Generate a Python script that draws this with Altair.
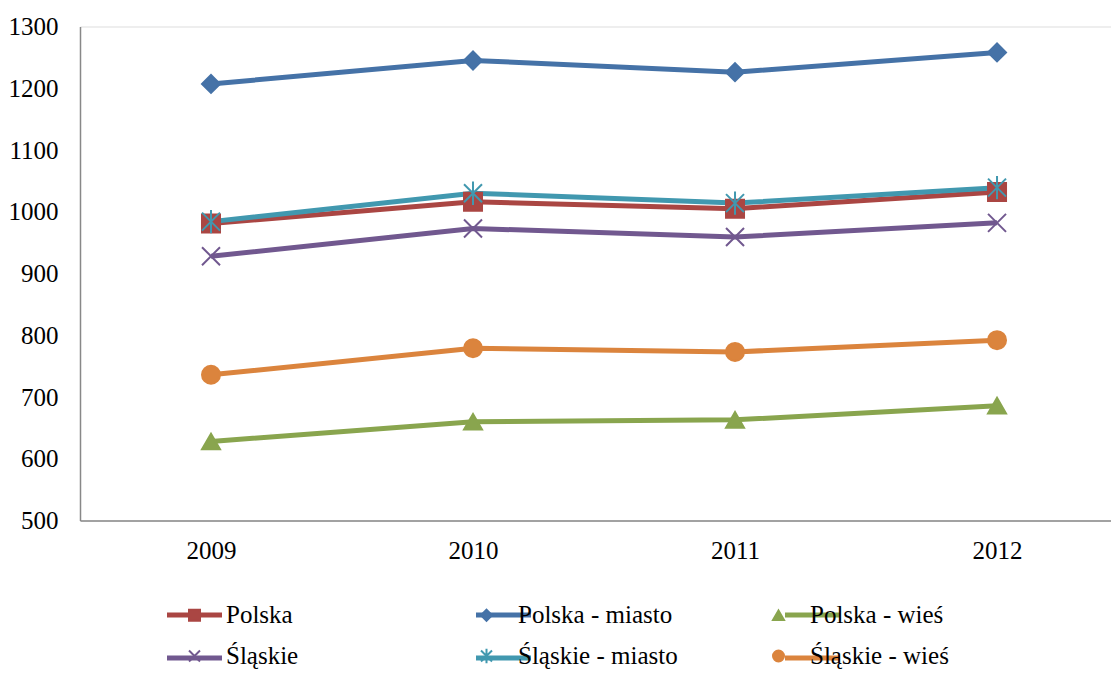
import altair as alt
import pandas as pd

years = [2009, 2010, 2011, 2012]
series = ["Polska", "Polska - miasto", "Polska - wieś",
          "Śląskie", "Śląskie - miasto", "Śląskie - wieś"]
polska = [981, 1016, 1005, 1032]
polska_miasto = [1207, 1245, 1226, 1258]
polska_wies = [628, 660, 663, 686]
slaskie = [928, 973, 959, 982]
slaskie_miasto = [984, 1030, 1014, 1039]
slaskie_wies = [736, 779, 773, 792]
y_ticks = [500, 600, 700, 800, 900, 1000, 1100, 1200, 1300]

colors = ["#AA4643", "#4572A7", "#89A54E", "#71588F", "#4198AF", "#DB843D"]
shapes = ["square", "diamond", "triangle-up",
          "M-1,-1L1,1M-1,1L1,-1",
          "M-1,-1L1,1M-1,1L1,-1M0,-1.3L0,1.3",
          "circle"]

values = [polska, polska_miasto, polska_wies, slaskie, slaskie_miasto, slaskie_wies]
rows = []
for s, vals in zip(series, values):
    for yr, v in zip(years, vals):
        rows.append({"series": s, "series2": s, "year": yr, "value": v})
df = pd.DataFrame(rows)

FONT = "Liberation Serif, Times New Roman, DejaVu Serif, serif"
label_expr = "indexof(datum.label, 'Ś') == 0 ? '\u00a0' + datum.label : datum.label"

x = alt.X("year:Q", title=None,
          scale=alt.Scale(domain=[2008.5, 2012.435], nice=False, zero=False),
          axis=alt.Axis(values=years, format="d", grid=False, ticks=False, tickSize=0,
                        labelPadding=18, labelFont=FONT, labelFontSize=25,
                        labelColor="black", domainColor="#888888", domainWidth=1.5))
y = alt.Y("value:Q", title=None,
          scale=alt.Scale(domain=[500, 1300], nice=False, zero=False),
          axis=alt.Axis(values=y_ticks, format="d", grid=False, ticks=False, tickSize=0,
                        labelPadding=22, labelFont=FONT, labelFontSize=25,
                        labelColor="black", domainColor="#888888", domainWidth=1.5))

legend_lines = alt.Legend(
    title=None, orient="none", legendX=84.5, legendY=558.5, columns=3, direction="horizontal",
    symbolType="stroke", symbolSize=3025, symbolStrokeWidth=5,
    labelFont=FONT, labelFontSize=25, labelOffset=0,
    labelExpr="''", columnPadding=233, rowPadding=-20,
    gridAlign="all", padding=0)

legend_marks = alt.Legend(
    title=None, orient="none", legendX=102, legendY=576, columns=3, direction="horizontal",
    symbolSize=121, symbolStrokeWidth=2, symbolOpacity=1,
    labelFont=FONT, labelFontSize=25, labelColor="black", labelOffset=19,
    labelLimit=0, labelExpr=label_expr, columnPadding=88, rowPadding=15,
    gridAlign="all", padding=0)

lines = alt.Chart(df).mark_line(strokeWidth=5).encode(
    x=x, y=y,
    color=alt.Color("series:N", sort=series,
                    scale=alt.Scale(range=colors),
                    legend=legend_lines),
)

points = alt.Chart(df).mark_point(filled=True, size=324, strokeWidth=2, opacity=1).encode(
    x=x, y=y,
    fill=alt.Fill("series2:N", sort=series,
                  scale=alt.Scale(domain=series, range=colors), legend=legend_marks),
    stroke=alt.Stroke("series2:N", sort=series,
                      scale=alt.Scale(domain=series, range=colors), legend=legend_marks),
    shape=alt.Shape("series2:N", sort=series,
                    scale=alt.Scale(domain=series, range=shapes), legend=legend_marks),
)

chart = alt.layer(lines, points).properties(
    width=1031, height=494,
    autosize=alt.AutoSizeParams(type="none"),
    padding={"left": 72, "top": 18.5, "right": 0, "bottom": 148.5},
).configure_view(stroke=None).configure(background="white")

chart.save("out.html", embed_options={"renderer": "svg", "actions": False})
